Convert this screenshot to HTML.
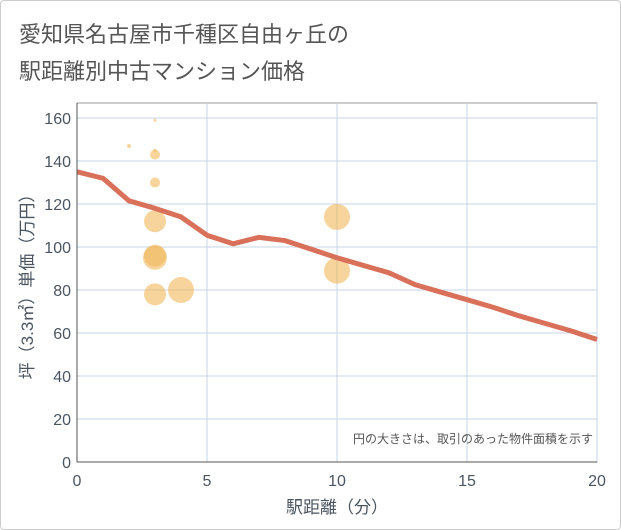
<!DOCTYPE html>
<html><head><meta charset="utf-8"><style>
body{margin:0;background:#fff;}
#card{position:absolute;left:0;top:0;width:619px;height:528px;border:1px solid #ccc;border-radius:4px;background:#fff;}
.t{position:absolute;left:18px;font:22px "Liberation Sans","Noto Sans CJK JP",sans-serif;color:#555;}
</style></head><body>
<div id="card">
<div class="t" style="top:16px">愛知県名古屋市千種区自由ヶ丘の</div>
<div class="t" style="top:53px">駅距離別中古マンション価格</div>
</div>
<svg id="chart" width="621" height="530" style="position:absolute;left:0;top:0" font-family="Liberation Sans, Noto Sans CJK JP, sans-serif"></svg>
<script>
const xTicks=[0,5,10,15,20];
const yTicks=[0,20,40,60,80,100,120,140,160];
const lineX=[0,1,2,3,4,5,6,7,8,9,10,11,12,13,14,15,16,17,18,19,20];
const lineY=[135,132,121.5,118,114,105.5,101.5,104.5,103,99,95,91.5,88,82.5,79,75.5,72,68,64.5,61,57];
const bubX=[2,3,3,3,3,3,3,3,3,4,10,10];
const bubY=[147,159,143,145,130,112,95,96,78,80,114,89];
const bubR=[2,1.5,5,1.5,5,11,12,11,11,13,13,13];
const NS='http://www.w3.org/2000/svg';
const svg=document.getElementById('chart');
const L=77,R=597,T=103,B=462,YMAX=167;
const sx=v=>L+(v/20)*(R-L);
const sy=v=>B-(v/YMAX)*(B-T);
function mk(tag,attrs,parent){const e=document.createElementNS(NS,tag);for(const k in attrs)e.setAttribute(k,attrs[k]);(parent||svg).appendChild(e);return e;}
let g=mk('rect',{x:L,y:T,width:R-L,height:B-T,fill:'#fff',stroke:'#999','stroke-width':1});


yTicks.forEach(v=>{
 const l=mk('line',{x1:L,x2:R,y1:sy(v),y2:sy(v),stroke:'#c8d6e5','stroke-width':1});
 
 
 const t=mk('text',{x:L-6,y:sy(v)+6,'text-anchor':'end','font-size':16,fill:'#4a5560'});
 t.textContent=v;
 
 
});
xTicks.forEach(v=>{
 const l=mk('line',{x1:sx(v),x2:sx(v),y1:T,y2:B,stroke:'#c8d6e5','stroke-width':1});
 
 
 const t=mk('text',{x:sx(v),y:B+24,'text-anchor':'middle','font-size':16,fill:'#4a5560'});
 t.textContent=v;
 
 
});
bubX.forEach((x,i)=>{
 const c=mk('circle',{cx:sx(x),cy:sy(bubY[i]),r:bubR[i],fill:'#f0b75a','fill-opacity':0.6});
 
 
});
const p=mk('polyline',{points:lineX.map((x,i)=>sx(x)+','+sy(lineY[i])).join(' '),fill:'none',stroke:'#d9705a','stroke-width':5,'stroke-linejoin':'round'});


mk('line',{x1:L,x2:L,y1:T,y2:B,stroke:'#555','stroke-width':1});
mk('line',{x1:L,x2:R,y1:B,y2:B,stroke:'#555','stroke-width':1});
let a=mk('text',{x:sx(10),y:513,'text-anchor':'middle','font-size':17,fill:'#4a5560'});
a.textContent='駅距離（分）';


let b=mk('text',{x:0,y:0,'text-anchor':'middle','font-size':17,fill:'#4a5560',transform:'translate(33,'+((T+B)/2)+') rotate(-90)'});
b.textContent='坪（3.3㎡）単価（万円）';


let n=mk('text',{x:R-4,y:443,'text-anchor':'end','font-size':12,fill:'#555'});
n.textContent='円の大きさは、取引のあった物件面積を示す';


</script>
</body></html>
